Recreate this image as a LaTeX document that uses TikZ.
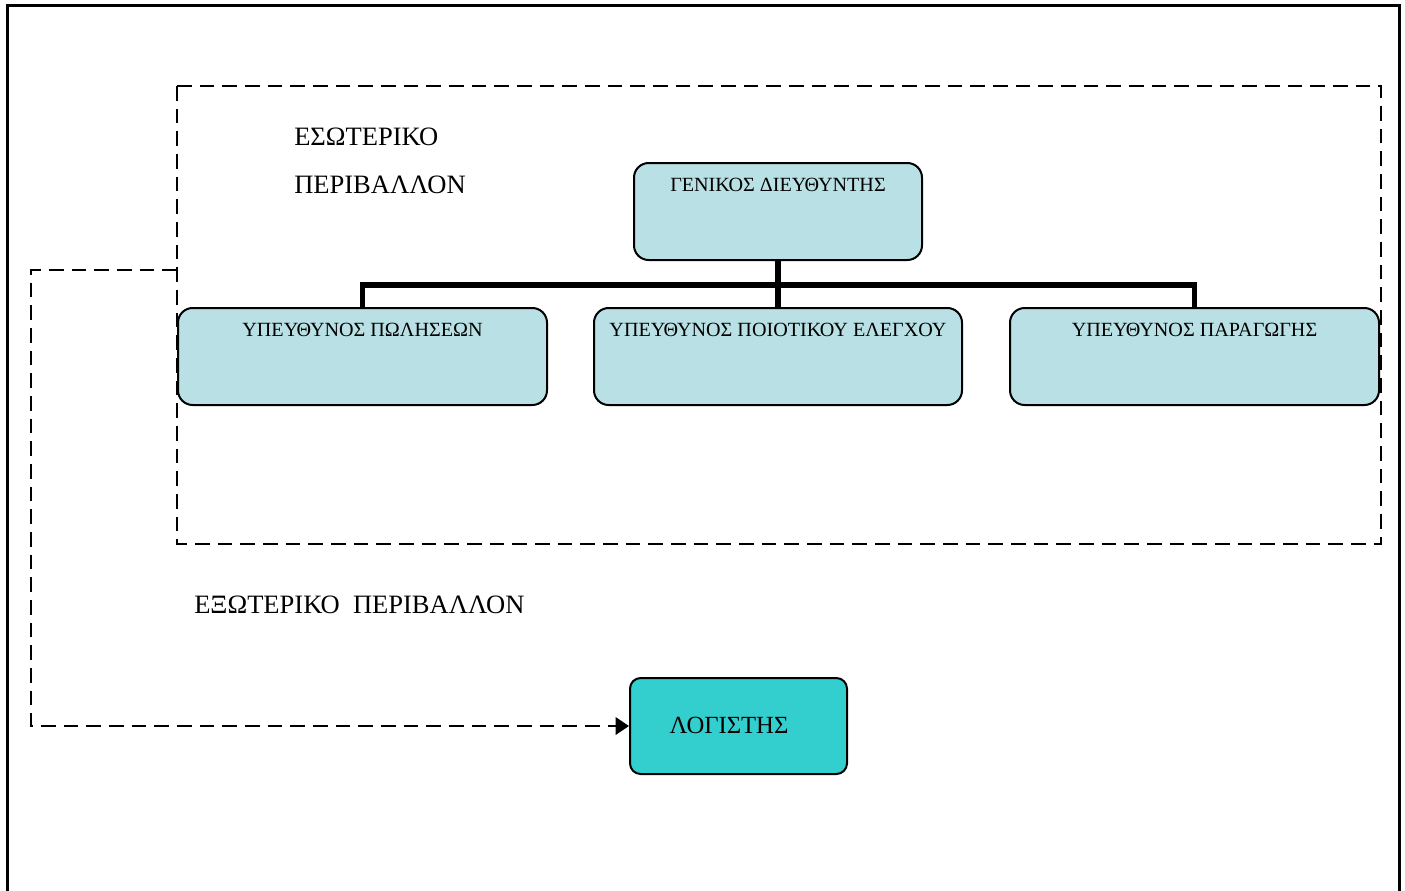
\documentclass[tikz,border=0pt]{standalone}
\usepackage{fontspec}
\setmainfont{Liberation Serif}
\usetikzlibrary{arrows.meta}
\definecolor{boxlight}{RGB}{185,224,228}
\definecolor{boxteal}{RGB}{51,206,206}
\begin{document}
\begin{tikzpicture}[x=0.75pt,y=-0.75pt,
  frame/.style={line width=1.7pt},
  envbox/.style={line width=1.6pt,dash pattern=on 11pt off 6pt},
  orgbox/.style={draw,line width=1.5pt,rounded corners=11pt,fill=boxlight,inner sep=0pt},
  acctbox/.style={draw,line width=1.5pt,rounded corners=8pt,fill=boxteal,inner sep=0pt},
  orgline/.style={line width=3.8pt},
  dashline/.style={line width=1.7pt,dash pattern=on 11pt off 6pt},
  boxtext/.style={anchor=base,inner sep=0pt,font=\fontsize{15.1}{18}\selectfont},
  bigtext/.style={anchor=base west,inner sep=0pt,font=\fontsize{19.9}{24}\selectfont}]
\useasboundingbox (0,0) rectangle (1405,890);
% outer frame (open at the bottom)
\coordinate (fbl) at (7.5,892);
\coordinate (ftl) at (7.5,5.5);
\coordinate (ftr) at (1399.5,5.5);
\coordinate (fbr) at (1399.5,892);
\draw[frame] (fbl) -- (ftl) -- (ftr) -- (fbr);
% inner environment
\coordinate (ia) at (177,86);
\coordinate (ib) at (1381,544);
\draw[envbox] (ia) rectangle (ib);
\node[bigtext] (es1) at (294,145) {ΕΣΩΤΕΡΙΚΟ};
\node[bigtext] (es2) at (294,193) {ΠΕΡΙΒΑΛΛΟΝ};
\node[bigtext] (ex) at (194,613) {ΕΞΩΤΕΡΙΚΟ\ \ ΠΕΡΙΒΑΛΛΟΝ};
% boxes
\node[orgbox,minimum width=288*0.75pt,minimum height=97*0.75pt] (gm) at (778,211.5) {};
\node[boxtext] (gmt) at (778,191) {ΓΕΝΙΚΟΣ ΔΙΕΥΘΥΝΤΗΣ};
\node[orgbox,minimum width=369*0.75pt,minimum height=97*0.75pt] (sales) at (362.5,356.5) {};
\node[boxtext] (salest) at (362.5,336) {ΥΠΕΥΘΥΝΟΣ ΠΩΛΗΣΕΩΝ};
\node[orgbox,minimum width=368*0.75pt,minimum height=97*0.75pt] (qc) at (778,356.5) {};
\node[boxtext] (qct) at (778,336) {ΥΠΕΥΘΥΝΟΣ ΠΟΙΟΤΙΚΟΥ ΕΛΕΓΧΟΥ};
\node[orgbox,minimum width=369*0.75pt,minimum height=97*0.75pt] (prod) at (1194.5,356.5) {};
\node[boxtext] (prodt) at (1194.5,336) {ΥΠΕΥΘΥΝΟΣ ΠΑΡΑΓΩΓΗΣ};
\node[acctbox,minimum width=217*0.75pt,minimum height=96*0.75pt] (acc) at (738.5,726) {};
\node[anchor=base,inner sep=0pt,font=\fontsize{18.5}{22}\selectfont] (acct) at (729,733) {ΛΟΓΙΣΤΗΣ};
% org connectors
\coordinate (bar) at (778,285);
\draw[orgline] (gm.south) -- (qc.north);
\draw[orgline] (sales.north) |- (bar) -| (prod.north);
% dashed link
\coordinate (d1) at (177,270);
\coordinate (c1) at (31,270);
\draw[dashline,-{Triangle[length=10pt,width=13pt]}] (d1) -- (c1) |- (acc.west);
\end{tikzpicture}
\end{document}
